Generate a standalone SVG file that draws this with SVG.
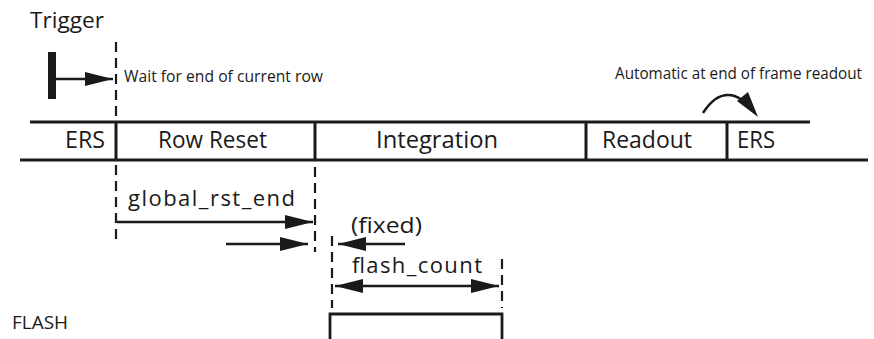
<svg xmlns="http://www.w3.org/2000/svg" width="874" height="339" viewBox="0 0 874 339">
  <style>
    .t { font-family: "Open Sans", "Noto Sans", "Liberation Sans", sans-serif; fill: #1a1a1a; }
    .big { font-size: 23px; }
    .mid { font-size: 22px; }
    .small { font-size: 15.5px; }
    .rail { stroke: #1a1a1a; stroke-width: 2.8; fill: none; }
    .div { stroke: #1a1a1a; stroke-width: 3; fill: none; }
    .dash { stroke: #1a1a1a; stroke-width: 2.2; stroke-dasharray: 10 6; fill: none; }
    .ln { stroke: #1a1a1a; stroke-width: 2.5; fill: none; }
    .head { fill: #1a1a1a; }
  </style>
  <defs>
    <marker id="ah" viewBox="0 0 28 14" refX="28" refY="7" markerWidth="28" markerHeight="14" markerUnits="userSpaceOnUse" orient="auto-start-reverse">
      <path d="M0,0 L28,7 L0,14 Z" class="head"/>
    </marker>
  </defs>

  <rect width="874" height="339" fill="#ffffff"/>

  <!-- trigger -->
  <g id="trigger">
    <text class="t mid" x="30" y="28" textLength="74" lengthAdjust="spacingAndGlyphs">Trigger</text>
    <rect x="48" y="52" width="8" height="47" fill="#1a1a1a"/>
    <line class="ln" x1="56" y1="79" x2="113" y2="79" marker-end="url(#ah)"/>
    <text class="t small" x="124" y="82" textLength="199" lengthAdjust="spacingAndGlyphs">Wait for end of current row</text>
  </g>

  <!-- timeline bar -->
  <g id="bar">
    <line class="rail" x1="30" y1="122" x2="810" y2="122"/>
    <line class="rail" x1="20" y1="160" x2="868" y2="160"/>
    <line class="div" x1="116" y1="122" x2="116" y2="160"/>
    <line class="div" x1="315" y1="122" x2="315" y2="160"/>
    <line class="div" x1="586" y1="122" x2="586" y2="160"/>
    <line class="div" x1="727" y1="122" x2="727" y2="160"/>
  </g>
  <g id="ers1"><text class="t big" x="65" y="148" textLength="40" lengthAdjust="spacingAndGlyphs">ERS</text></g>
  <g id="row-reset"><text class="t big" x="158" y="148" textLength="109" lengthAdjust="spacingAndGlyphs">Row Reset</text></g>
  <g id="integration"><text class="t big" x="376" y="148" textLength="122" lengthAdjust="spacingAndGlyphs">Integration</text></g>
  <g id="readout"><text class="t big" x="602" y="148" textLength="90" lengthAdjust="spacingAndGlyphs">Readout</text></g>
  <g id="ers2"><text class="t big" x="737" y="148" textLength="38" lengthAdjust="spacingAndGlyphs">ERS</text></g>

  <!-- automatic transition -->
  <g id="auto">
    <text class="t small" x="615" y="79" textLength="247" lengthAdjust="spacingAndGlyphs">Automatic at end of frame readout</text>
    <path class="ln" d="M703,113 C710,102 718,95 728,95 C734,95 738,97 742,100"/>
    <polygon class="head" points="737,101 748,92 758,117"/>
  </g>

  <!-- timing markers -->
  <g id="connectors">
    <line class="dash" x1="116" y1="42" x2="116" y2="122"/>
    <line class="dash" x1="116" y1="165" x2="116" y2="240"/>
    <line class="dash" x1="315" y1="167" x2="315" y2="252"/>
    <line class="dash" x1="332" y1="236" x2="332" y2="308"/>
    <line class="dash" x1="502" y1="259" x2="502" y2="308"/>
    <line class="ln" x1="117" y1="222" x2="313" y2="222" marker-end="url(#ah)"/>
    <line class="ln" x1="226" y1="244" x2="308" y2="244" marker-end="url(#ah)"/>
    <line class="ln" x1="405" y1="244" x2="338" y2="244" marker-end="url(#ah)"/>
    <line class="ln" x1="335" y1="286" x2="499" y2="286" marker-start="url(#ah)" marker-end="url(#ah)"/>
  </g>
  <g id="global-rst-end"><text class="t mid" x="128" y="206" textLength="167" lengthAdjust="spacing">global_rst_end</text></g>
  <g id="fixed"><text class="t mid" x="351" y="233" textLength="71" lengthAdjust="spacingAndGlyphs">(fixed)</text></g>
  <g id="flash-count"><text class="t mid" x="352" y="273" textLength="130" lengthAdjust="spacing">flash_count</text></g>

  <!-- flash pulse -->
  <g id="flash">
    <text class="t" font-size="19" x="12" y="329" textLength="56" lengthAdjust="spacingAndGlyphs">FLASH</text>
    <path class="rail" d="M330,339 V314 H502 V339"/>
  </g>
</svg>
